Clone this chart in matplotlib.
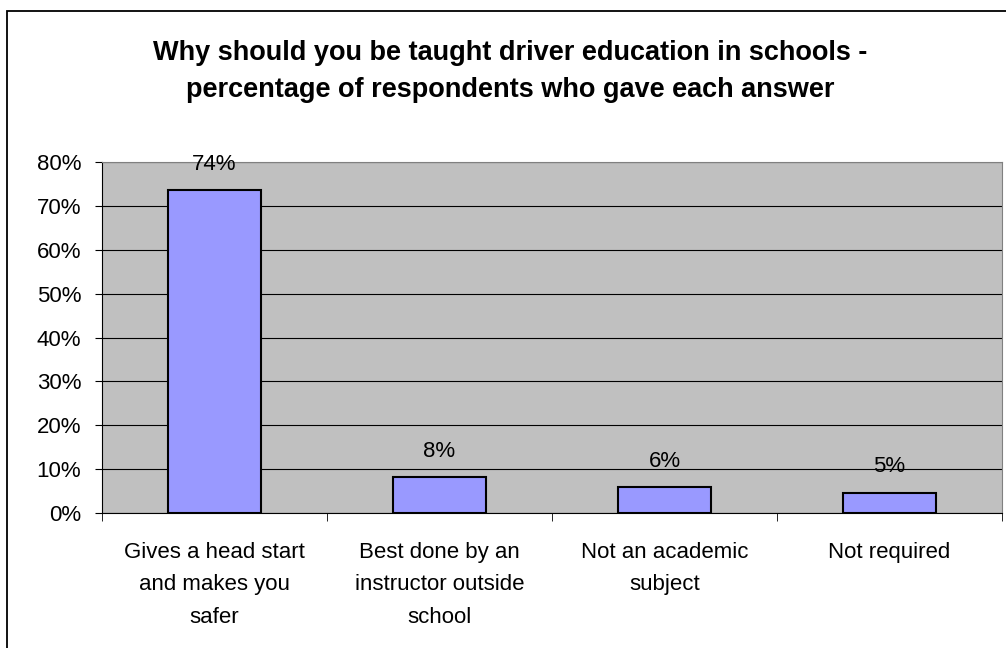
import numpy as np
import matplotlib.pyplot as plt
from matplotlib.patches import Rectangle

categories = ['Gives a head start\nand makes you\nsafer',
              'Best done by an\ninstructor outside\nschool',
              'Not an academic\nsubject',
              'Not required']
values = [73.6, 8.2, 5.9, 4.6]
labels = ['74%', '8%', '6%', '5%']
yticks = [0, 10, 20, 30, 40, 50, 60, 70, 80]

plt.rcParams['font.family'] = ['Liberation Sans', 'DejaVu Sans']

fig = plt.figure(figsize=(10.06, 6.48), dpi=100)
# chart frame, cut off on the right and bottom like the source
fig.patches.append(Rectangle((0.0072, -0.05), 1.1, 0.0335 + 1.0, transform=fig.transFigure,
                             fill=False, edgecolor='black', linewidth=1.3))

ax = fig.add_axes([0.1014, 0.2083, 0.8946, 0.5417])
ax.set_facecolor('#c0c0c0')

x = np.arange(len(categories))
ax.bar(x, values, width=0.41, color='#9999ff', edgecolor='black', linewidth=1.5, zorder=3)
for xi, v, lab in zip(x, values, labels):
    ax.text(xi, v + 3.5, lab, ha='center', va='bottom', fontsize=16, zorder=4)

ax.set_xlim(-0.5, len(categories) - 0.5)
ax.set_ylim(0, 80)
ax.set_yticks(yticks)
ax.set_yticklabels([f'{t}%' for t in yticks], fontsize=16)
ax.yaxis.grid(True, color='black', linewidth=0.8, zorder=1)
ax.set_axisbelow(True)

ax.set_xticks(x)
ax.set_xticklabels(categories, fontsize=16, linespacing=1.7)
ax.tick_params(axis='x', length=0, pad=21)
ax.set_xticks(np.arange(-0.5, len(categories)), minor=True)
ax.tick_params(axis='x', which='minor', length=6, color='black', direction='out')
ax.tick_params(axis='y', length=5, direction='out', pad=10)

for side in ['top', 'right']:
    ax.spines[side].set_color('#808080')
for side in ['left', 'bottom']:
    ax.spines[side].set_color('black')

fig.text(0.507, 0.889, 'Why should you be taught driver education in schools -\n'
         'percentage of respondents who gave each answer',
         ha='center', va='center', fontsize=19.5, fontweight='bold', linespacing=1.55)

fig.savefig('out.png', dpi=100)
